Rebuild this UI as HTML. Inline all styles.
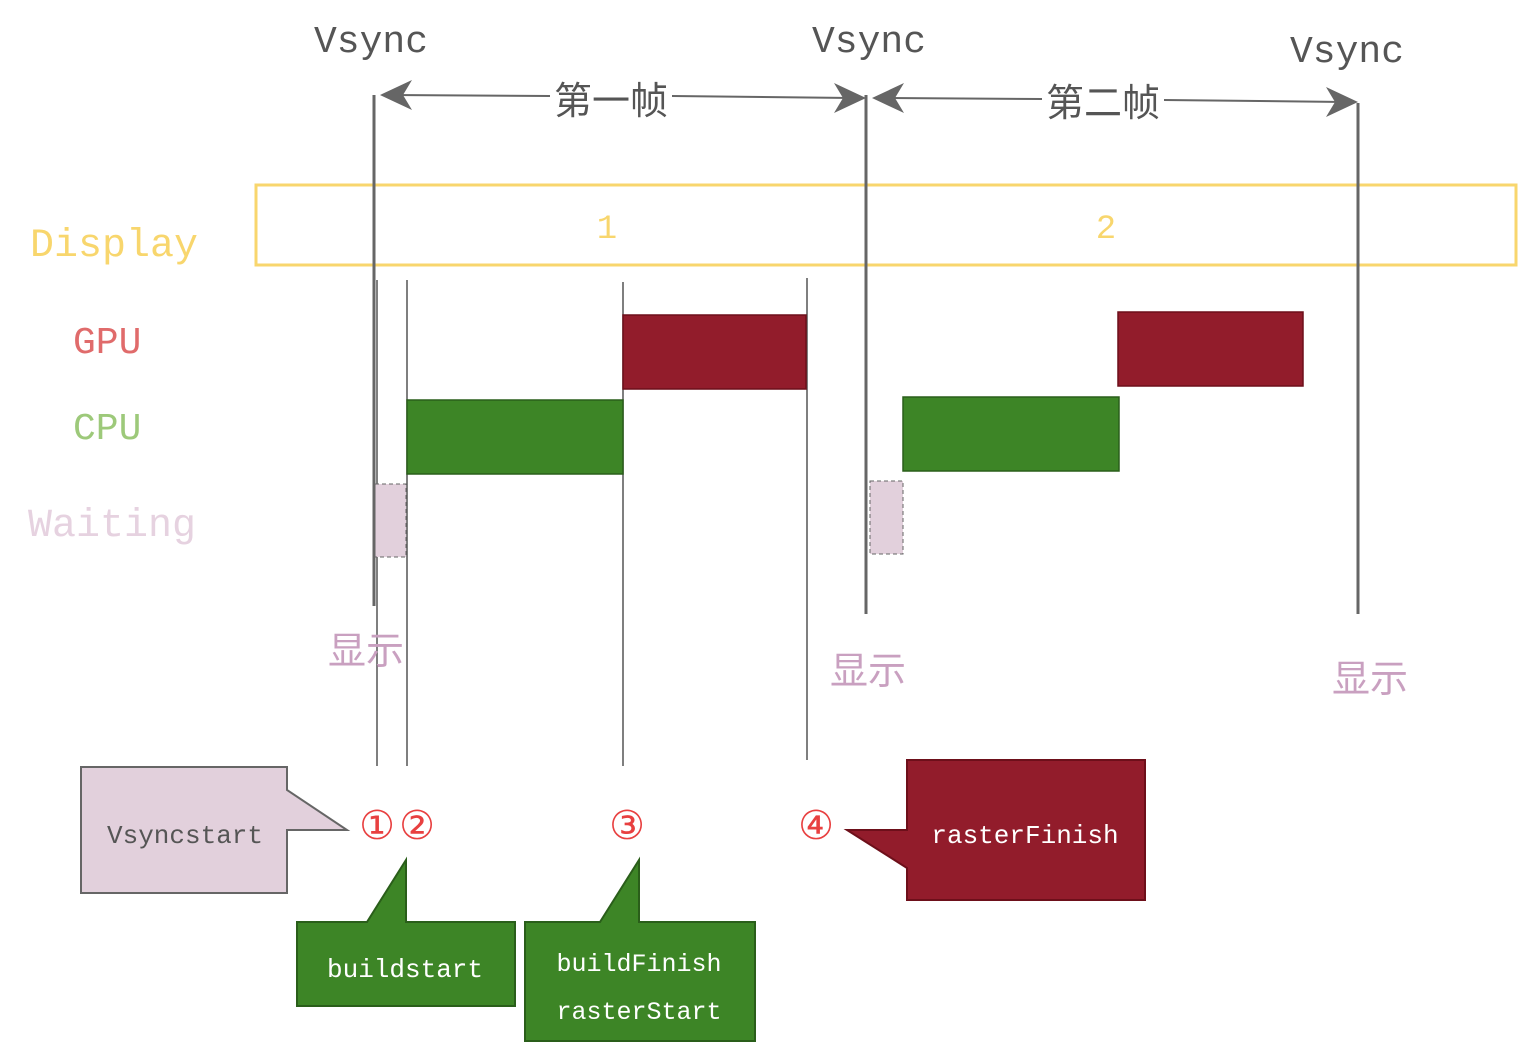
<!DOCTYPE html>
<html><head><meta charset="utf-8"><style>body{margin:0;background:#fff}svg{display:block}</style></head><body>
<svg width="1530" height="1062" viewBox="0 0 1530 1062" xmlns="http://www.w3.org/2000/svg">
<g font-family="'Liberation Mono','DejaVu Sans Mono',monospace">
<rect x="256" y="185" width="1260" height="80" fill="none" stroke="#f8d66d" stroke-width="3"/>
<text x="607" y="238" font-size="34" fill="#f8d66d" text-anchor="middle">1</text>
<text x="1106" y="238" font-size="34" fill="#f8d66d" text-anchor="middle">2</text>
<text x="30" y="256" font-size="40" fill="#f8d66d">Display</text>
<text x="73" y="353" font-size="38" fill="#e06b6b">GPU</text>
<text x="73" y="439" font-size="38" fill="#9dc97a">CPU</text>
<text x="28" y="536" font-size="40" fill="#e6d2e0">Waiting</text>
<g stroke="#555" stroke-width="1.5">
<line x1="377" y1="280" x2="377" y2="766"/><line x1="407" y1="280" x2="407" y2="766"/>
<line x1="623" y1="282" x2="623" y2="766"/><line x1="807" y1="278" x2="807" y2="760"/>
</g>
<rect x="623" y="315" width="183" height="74" fill="#921c2b" stroke="#6d0f1a" stroke-width="1.5"/>
<rect x="1118" y="312" width="185" height="74" fill="#921c2b" stroke="#6d0f1a" stroke-width="1.5"/>
<rect x="407" y="400" width="216" height="74" fill="#3d8526" stroke="#2a5e1a" stroke-width="1.5"/>
<rect x="903" y="397" width="216" height="74" fill="#3d8526" stroke="#2a5e1a" stroke-width="1.5"/>
<rect x="375" y="484" width="31" height="73" fill="#e2d0dc" stroke="#666" stroke-dasharray="4,3"/>
<rect x="870" y="481" width="33" height="73" fill="#e2d0dc" stroke="#666" stroke-dasharray="4,3"/>
<g stroke="#666" stroke-width="3">
<line x1="374" y1="95" x2="374" y2="606"/><line x1="866" y1="95" x2="866" y2="614"/><line x1="1358" y1="103" x2="1358" y2="614"/>
</g>
<g stroke="#666" stroke-width="2" fill="#666">
<line x1="390" y1="95" x2="550" y2="96"/><line x1="672" y1="96" x2="852" y2="98"/>
<polygon points="380,95 412,80 403,95 412,110" stroke="none"/>
<polygon points="866,98 834,83 843,98 834,113" stroke="none"/>
<line x1="885" y1="98" x2="1042" y2="99"/><line x1="1164" y1="100" x2="1345" y2="102"/>
<polygon points="872,98 904,83 895,98 904,113" stroke="none"/>
<polygon points="1358,102 1326,87 1335,102 1326,117" stroke="none"/>
</g>
<text x="371" y="52" font-size="38" fill="#555" text-anchor="middle">Vsync</text>
<text x="869" y="52" font-size="38" fill="#555" text-anchor="middle">Vsync</text>
<text x="1347" y="62" font-size="38" fill="#555" text-anchor="middle">Vsync</text>
<g font-family="'Liberation Sans','Noto Sans CJK SC',sans-serif" font-size="38" text-anchor="middle">
<text x="611" y="114" fill="#555">第一帧</text>
<text x="1103" y="116" fill="#555">第二帧</text>
<text x="366" y="664" fill="#c9a0c0">显示</text>
<text x="868" y="684" fill="#c9a0c0">显示</text>
<text x="1370" y="692" fill="#c9a0c0">显示</text>
</g>
<polygon points="81,767 287,767 287,790 347,830 287,830 287,893 81,893" fill="#e2d0dc" stroke="#666" stroke-width="2"/>
<text x="185" y="843" font-size="26" fill="#555" text-anchor="middle">Vsyncstart</text>
<polygon points="297,922 367,922 406,860 406,922 515,922 515,1006 297,1006" fill="#3d8526" stroke="#2a5e1a" stroke-width="2"/>
<text x="405" y="977" font-size="26" fill="#fff" text-anchor="middle">buildstart</text>
<polygon points="525,922 600,922 639,860 639,922 755,922 755,1041 525,1041" fill="#3d8526" stroke="#2a5e1a" stroke-width="2"/>
<text x="639" y="971" font-size="25" fill="#fff" text-anchor="middle">buildFinish</text>
<text x="639" y="1019" font-size="25" fill="#fff" text-anchor="middle">rasterStart</text>
<polygon points="907,760 1145,760 1145,900 907,900 907,868 847,830 907,830" fill="#921c2b" stroke="#6d0f1a" stroke-width="2"/>
<text x="1025" y="843" font-size="26" fill="#fff" text-anchor="middle">rasterFinish</text>
<g font-family="'DejaVu Sans','Noto Sans CJK SC',sans-serif" font-size="40" fill="#e84040" text-anchor="middle">
<text x="377" y="839">①</text><text x="417" y="839">②</text>
<text x="627" y="839">③</text><text x="816" y="839">④</text>
</g>
</g>
</svg>
</body></html>
